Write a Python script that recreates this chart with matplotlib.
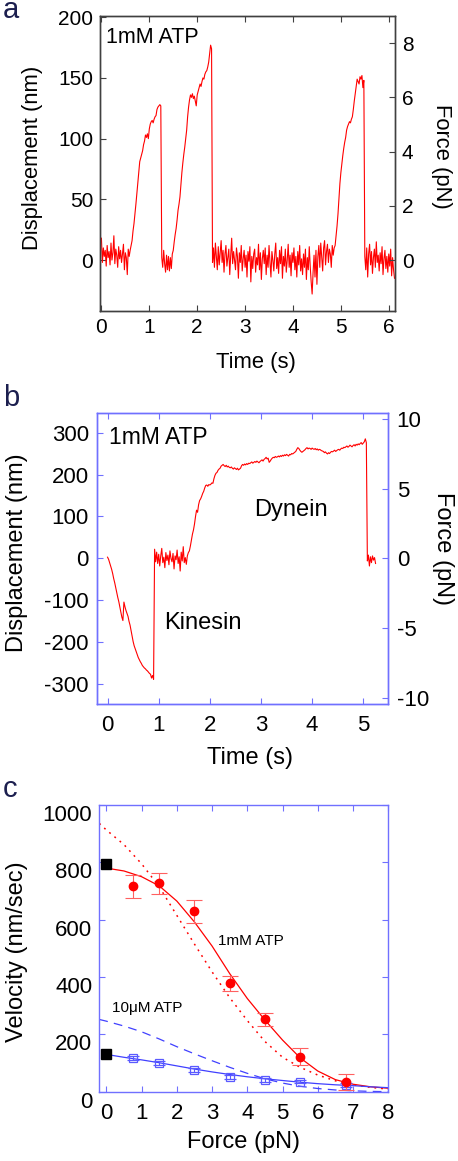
import numpy as np
import matplotlib
matplotlib.use('Agg')
import matplotlib.pyplot as plt
from matplotlib.transforms import ScaledTranslation

plt.rcParams['font.family'] = ['Liberation Sans', 'DejaVu Sans']
plt.rcParams['axes.unicode_minus'] = False

RED = '#ff0000'
RED_ERR = '#ff6060'
BLUE_FRAME = '#7070ff'
BLUE_LINE = '#4040ff'
BLUE_MARK = '#5a5aff'
FRAME_A = '#404040'
NAVY = '#1c1f4f'

# ---------------------------------------------------------------------------
# Data (traces sampled every 0.02 s, read off the figure)
# ---------------------------------------------------------------------------
DT = 0.02

disp_a = [
    18, -2, 10, 3, 8, -5, 12, 2, 7, -4,
    14, 0, 6, 20, -3, 9, 4, -6, 11, 1,
    8, -2, 5, 13, -8, 6, 2, -12, 9, 3,
    8, 12, 16, 24, 30, 38, 46, 55, 63, 74,
    81, 84, 87, 90, 95, 98, 103, 101, 104, 100,
    108, 112, 114, 115, 113, 116, 118, 119, 124, 126,
    127, 128, 127, 2, -6, 8, -3, -10, 4, -8,
    3, -9, 2, -7, 5, 8, 15, 21, 26, 33,
    41, 46, 52, 62, 72, 80, 87, 93, 100, 107,
    118, 126, 132, 136, 134, 137, 133, 135, 131, 127,
    136, 139, 142, 145, 143, 147, 150, 149, 153, 155,
    156, 159, 163, 170, 177, 174, -2, 10, -6, 14,
    3, -8, 11, -4, 6, 16, -2, 8, -10, 5,
    12, -5, 2, 9, -12, 4, 18, -3, 7, 0,
    -8, 10, 3, -15, 6, -2, 12, -9, 1, 8,
    -6, 4, -14, 7, -1, 11, -18, 3, -7, 5,
    9, -10, 2, -4, 13, -8, 6, -16, 1, 8,
    -3, 10, -12, 4, -6, 12, -2, -14, 7, 0,
    -9, 5, 14, -7, 2, -11, 8, -3, 11, -15,
    3, -5, 9, -10, 0, 13, -6, 4, -13, 6,
    -2, 10, -8, 3, -14, 7, -4, 12, -9, 1,
    -12, 5, -6, 9, -16, 2, -8, 11, -5, -18,
    -28, -10, 4, -14, 8, -20, 3, 12, -6, 14,
    2, -9, 10, 16, -4, 7, 13, -2, 9, 5,
    -6, 12, 4, 10, 12, 20, 28, 38, 50, 63,
    72, 79, 86, 92, 97, 101, 107, 110, 112, 114,
    113, 116, 118, 124, 131, 137, 143, 149, 147, 145,
    151, 149, 152, 142, 148, 3, -8, 10, -14, 5,
    13, -4, 7, -11, 2, 9, -6, 15, -2, 4,
    -9, 6, -3, 11, -12, 1, 8, -7, 3, -10,
    5, -5, 9, -13, 2, -8, -15,
]

disp_b = [
    3, -2, -10, -18, -26, -36, -48, -58, -70, -83,
    -93, -103, -116, -128, -140, -148, -104, -115, -124, -131,
    -138, -150, -159, -172, -185, -198, -208, -215, -222, -229,
    -236, -241, -246, -250, -255, -258, -261, -263, -266, -268,
    -271, -274, -276, -285, -279, -288, 22, -8, 15, -12,
    10, -18, 6, 24, -10, 3, -22, 14, -5, 8,
    -15, 18, 0, -8, 12, -25, 6, -3, 20, -12,
    4, -30, 15, -6, 28, -10, 2, -14, 6, 14,
    18, 30, 44, 58, 68, 82, 100, 115, 110, 128,
    138, 142, 148, 155, 160, 168, 174, 175, 172, 176,
    175, 177, 180, 179, 190, 198, 203, 205, 210, 213,
    215, 220, 222, 224, 221, 219, 222, 218, 220, 217,
    216, 218, 215, 213, 216, 214, 212, 215, 211, 213,
    215, 221, 224, 222, 225, 223, 226, 224, 227, 226,
    228, 230, 227, 229, 231, 229, 232, 230, 228, 231,
    233, 235, 232, 236, 238, 241, 237, 239, 229, 232,
    236, 239, 241, 240, 243, 241, 242, 244, 242, 245,
    243, 246, 244, 247, 245, 248, 246, 244, 248, 247,
    250, 249, 251, 253, 255, 260, 264, 262, 258, 255,
    253, 255, 257, 259, 262, 264, 261, 263, 262, 260,
    263, 261, 260, 262, 259, 261, 258, 260, 259, 257,
    256, 255, 252, 254, 251, 249, 252, 250, 253, 255,
    254, 256, 258, 255, 257, 259, 260, 258, 261, 263,
    262, 265, 264, 266, 268, 265, 267, 270, 268, 266,
    269, 271, 268, 272, 270, 273, 271, 274, 276, 272,
    275, 278, 285, 276, -6, 8, -18, 4, -10, 6,
    -4, 2, -12,
]

# Panel c: force-velocity
force_pts = [0.75, 1.5, 2.5, 3.5, 4.5, 5.5, 6.8]
vel_1mM = [717, 727, 630, 378, 252, 122, 33]
err_1mM = [40, 37, 40, 26, 24, 30, 28]
vel_10uM = [116, 101, 76, 50, 41, 35, 23]
err_10uM = [7, 7, 7, 7, 6, 6, 6]
force_zero = [0, 0]
vel_zero = [794, 130]

fit_x = [0, 0.5, 1, 1.5, 2, 2.5, 3, 3.5, 4, 4.5, 5, 5.5, 6, 6.5, 7, 7.5, 8]
fit_1mM = [780, 770, 750, 718, 665, 592, 508, 412, 325, 250, 180, 118, 72, 42, 26, 17, 12]
fit_10uM = [130, 120, 111, 101, 90, 79, 69, 60, 52, 45, 39, 33, 28, 24, 21, 17, 14]
model_x = [-0.2, 0, 0.5, 1, 1.5, 2, 2.5, 3, 3.5, 4, 4.5, 5, 5.5, 6, 6.5, 7, 7.5, 8]
model_1mM = [936, 913, 862, 795, 715, 615, 515, 418, 328, 248, 175, 120, 85, 58, 38, 24, 15, 9]
model_10uM = [252, 246, 229, 209, 184, 157, 132, 108, 85, 64, 45, 30, 19, 11, 6, 3, 1, 0]

# ---------------------------------------------------------------------------
# Helpers
# ---------------------------------------------------------------------------
def style_frame(ax, color, labelsize):
    for s in ax.spines.values():
        s.set_color(color)
        s.set_linewidth(1.0)
    ax.tick_params(direction='in', length=4, width=0.8, color=color,
                   labelcolor='black', labelsize=labelsize)


fig = plt.figure(figsize=(4.58, 11.61), dpi=100)
fig.patch.set_facecolor('white')

# ---------------------------------------------------------------------------
# Panel a
# ---------------------------------------------------------------------------
axa = fig.add_axes([0.2183, 0.7321, 0.6441, 0.2541])
t_a = np.arange(len(disp_a)) * DT
axa.plot(t_a, disp_a, color=RED, lw=0.8)
axa.set_xlim(-0.03, 6.13)
axa.set_ylim(-42, 201)
axa.set_xticks(range(7))
axa.set_yticks([0, 50, 100, 150, 200])
style_frame(axa, FRAME_A, 15)
axa.tick_params(top=True, right=False, pad=5)
axa.text(0.09, 179, '1mM ATP', fontsize=15.5, va='baseline', ha='left')
axa.set_ylabel('Displacement (nm)', fontsize=15.8, va='center')
axa.yaxis.set_label_coords(-0.23, 0.52)
axa.set_xlabel('Time (s)', fontsize=15.8, va='center')
axa.xaxis.set_label_coords(0.53, -0.176)

axa2 = axa.twinx()
axa2.set_ylim(-1.88, 9.0)
axa2.set_yticks([0, 2, 4, 6, 8])
style_frame(axa2, FRAME_A, 15)
axa2.tick_params(pad=5)
axa2.set_ylabel('Force (pN)', fontsize=15.8, rotation=270, va='center')
axa2.yaxis.set_label_coords(1.159, 0.525)

# ---------------------------------------------------------------------------
# Panel b
# ---------------------------------------------------------------------------
axb = fig.add_axes([0.2125, 0.3934, 0.6354, 0.2512])
t_b = np.arange(len(disp_b)) * DT
axb.plot(t_b, disp_b, color=RED, lw=0.8)
axb.set_xlim(-0.2, 5.49)
axb.set_ylim(-347.5, 347.5)
axb.set_xticks(range(6))
axb.set_yticks([-300, -200, -100, 0, 100, 200, 300])
style_frame(axb, BLUE_FRAME, 16)
axb.tick_params(top=True, right=False, pad=6)
axb.tick_params(axis='x', pad=8)
axb.text(0.02, 273, '1mM ATP', fontsize=16.5, va='baseline', ha='left')
axb.text(1.11, -169, 'Kinesin', fontsize=17, va='baseline', ha='left')
axb.text(2.865, 100, 'Dynein', fontsize=17, va='baseline', ha='left')
axb.set_ylabel('Displacement (nm)', fontsize=17, va='center')
axb.yaxis.set_label_coords(-0.276, 0.52)
axb.set_xlabel('Time (s)', fontsize=17, va='center')
axb.xaxis.set_label_coords(0.525, -0.184)

axb2 = axb.twinx()
axb2.set_ylim(-10.45, 10.45)
axb2.set_yticks([-10, -5, 0, 5, 10])
style_frame(axb2, BLUE_FRAME, 16)
axb2.tick_params(pad=6)
axb2.set_ylabel('Force (pN)', fontsize=17, rotation=270, va='center')
axb2.yaxis.set_label_coords(1.188, 0.533)

# ---------------------------------------------------------------------------
# Panel c
# ---------------------------------------------------------------------------
axc = fig.add_axes([0.2168, 0.0597, 0.631, 0.2469])
axc.plot(fit_x, fit_1mM, color=RED, lw=0.9, zorder=2)
axc.plot(model_x, model_1mM, color=RED, lw=1.1, ls=(0, (1.2, 3.2)), zorder=2)
axc.plot(fit_x, fit_10uM, color=BLUE_LINE, lw=0.9, zorder=2)
axc.plot(model_x, model_10uM, color=BLUE_LINE, lw=0.9, ls=(0, (7, 5)), zorder=2)
axc.errorbar(force_pts, vel_10uM, yerr=err_10uM, fmt='s', mfc='none',
             mec=BLUE_MARK, ms=6, mew=0.9, ecolor=BLUE_MARK, elinewidth=0.8,
             capsize=4, capthick=0.8, zorder=3)
axc.errorbar(force_pts, vel_1mM, yerr=err_1mM, fmt='o', color=RED, ms=6,
             ecolor=RED_ERR, elinewidth=0.8, capsize=6, capthick=0.8, zorder=4)
axc.plot(force_zero, vel_zero, 's', color='black', ms=6.5, zorder=5, clip_on=False)
axc.set_xlim(-0.2, 8)
axc.set_ylim(0, 1000)
axc.set_xticks(range(9))
axc.set_yticks([0, 200, 400, 600, 800, 1000])
style_frame(axc, BLUE_FRAME, 16)
axc.tick_params(top=True, right=True, pad=5)
axc.tick_params(axis='x', pad=8)
axc.text(3.17, 511, '1mM ATP', fontsize=11, va='baseline', ha='left')
axc.text(0.17, 279, '10\u03bcM ATP', fontsize=11, va='baseline', ha='left')
axc.set_ylabel('Velocity (nm/sec)', fontsize=17, va='center')
axc.yaxis.set_label_coords(-0.285, 0.49)
axc.set_xlabel('Force (pN)', fontsize=17, va='center')
axc.xaxis.set_label_coords(0.50, -0.175)
shift = ScaledTranslation(0, -0.08, fig.dpi_scale_trans)
for lab in axc.get_yticklabels():
    lab.set_transform(lab.get_transform() + shift)

# ---------------------------------------------------------------------------
# Panel letters
# ---------------------------------------------------------------------------
for letter, y_px in [('a', 18.3), ('b', 406), ('c', 797)]:
    fig.text(3 / 458, 1 - y_px / 1161, letter, fontsize=21, color=NAVY,
             ha='left', va='baseline')

fig.savefig('out.png', dpi=100, facecolor='white')
